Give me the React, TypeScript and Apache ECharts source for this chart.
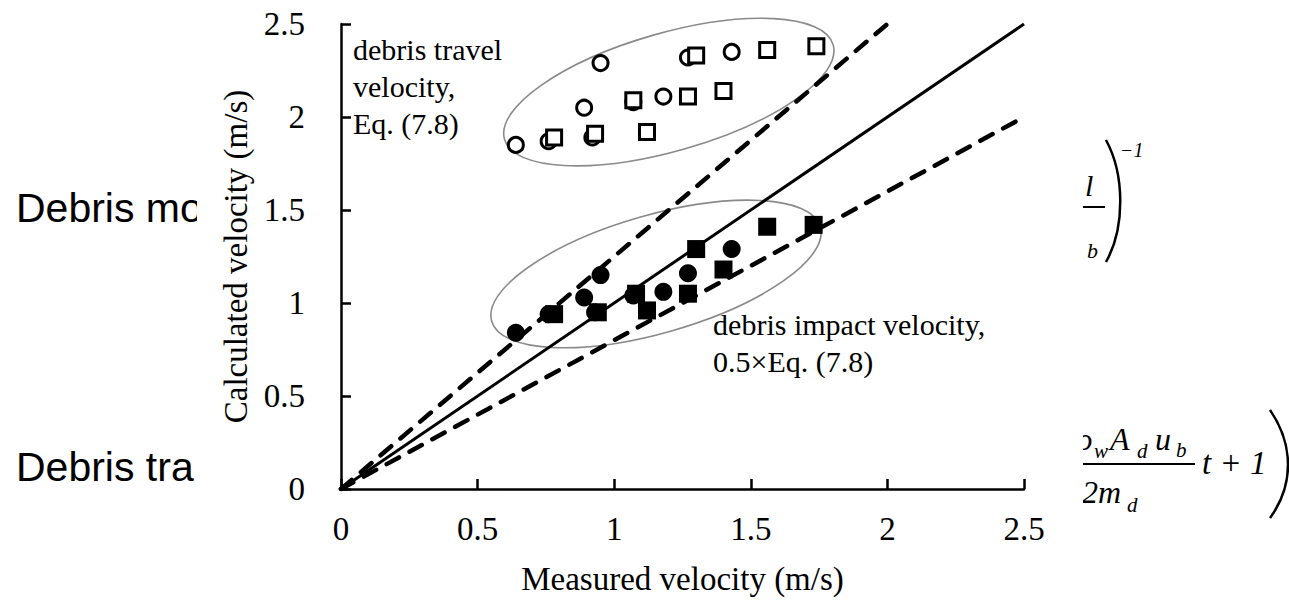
import React, { useEffect, useRef } from "react";
import * as echarts from "echarts";

// ---- data ----
const travelCircleX = [0.64, 0.76, 0.92, 0.89, 0.95, 1.07, 1.18, 1.27, 1.43];
const travelCircleY = [1.85, 1.87, 1.89, 2.05, 2.29, 2.08, 2.11, 2.32, 2.35];
const travelSquareX = [0.78, 0.93, 1.07, 1.12, 1.27, 1.3, 1.4, 1.56, 1.74];
const travelSquareY = [1.89, 1.91, 2.09, 1.92, 2.11, 2.33, 2.14, 2.36, 2.38];
const impactCircleX = [0.64, 0.76, 0.89, 0.93, 0.95, 1.07, 1.18, 1.27, 1.43];
const impactCircleY = [0.84, 0.94, 1.03, 0.95, 1.15, 1.04, 1.06, 1.16, 1.29];
const impactSquareX = [0.78, 0.94, 1.08, 1.12, 1.27, 1.3, 1.4, 1.56, 1.73];
const impactSquareY = [0.94, 0.95, 1.05, 0.96, 1.05, 1.29, 1.18, 1.41, 1.42];

const oneToOneLine = [[0, 0], [2.5, 2.5]];
const upperBoundLine = [[0, 0], [2.0, 2.5]];
const lowerBoundLine = [[0, 0], [2.5, 2.0]];

const axisMin = 0;
const axisMax = 2.5;
const axisStep = 0.5;

const xAxisTitle = "Measured velocity (m/s)";
const yAxisTitle = "Calculated velocity (m/s)";
const travelNote = "debris travel\nvelocity,\nEq. (7.8)";
const impactNote = "debris impact velocity,\n0.5×Eq. (7.8)";

const zip = (xs: number[], ys: number[]) => xs.map((x, i) => [x, ys[i]]);

export default function App() {
  const ref = useRef<HTMLDivElement>(null);
  useEffect(() => {
    document.body.style.margin = "0";
    const chart = echarts.init(ref.current!, null, { renderer: "svg" });
    const serif = "Liberation Serif";
    const axisCommon = {
      type: "value",
      min: axisMin,
      max: axisMax,
      interval: axisStep,
      splitLine: { show: false },
      axisLine: { show: true, lineStyle: { color: "#000", width: 2.5 } },
      axisTick: { show: true, inside: true, length: 10, lineStyle: { color: "#000", width: 2.5 } },
      nameLocation: "middle",
      nameTextStyle: { fontFamily: serif, fontSize: 33, color: "#000" },
    };
    chart.setOption({
      animation: false,
      grid: { left: 341, top: 24, width: 683, height: 465 },
      xAxis: {
        ...axisCommon,
        name: xAxisTitle,
        nameGap: 73,
        axisLabel: { fontFamily: serif, fontSize: 33, color: "#000", margin: 23 },
      },
      yAxis: {
        ...axisCommon,
        name: yAxisTitle,
        nameGap: 84,
        axisLabel: { fontFamily: serif, fontSize: 33, color: "#000", margin: 36 },
      },
      series: [
        {
          type: "line",
          data: oneToOneLine,
          showSymbol: false,
          lineStyle: { color: "#000", width: 3 },
          z: 1,
        },
        {
          type: "line",
          data: upperBoundLine,
          showSymbol: false,
          lineStyle: { color: "#000", width: 4.5, type: [14, 12], cap: "round" },
          z: 1,
        },
        {
          type: "line",
          data: lowerBoundLine,
          showSymbol: false,
          lineStyle: { color: "#000", width: 4.5, type: [14, 12], cap: "round" },
          z: 1,
        },
        {
          type: "scatter",
          data: zip(travelCircleX, travelCircleY),
          symbol: "circle",
          symbolSize: 15,
          itemStyle: { color: "#fff", borderColor: "#000", borderWidth: 3, opacity: 1 },
        },
        {
          type: "scatter",
          data: zip(travelSquareX, travelSquareY),
          symbol: "rect",
          symbolSize: 15,
          itemStyle: { color: "#fff", borderColor: "#000", borderWidth: 3, opacity: 1 },
        },
        {
          type: "scatter",
          data: zip(impactCircleX, impactCircleY),
          symbol: "circle",
          symbolSize: 18,
          itemStyle: { color: "#000", opacity: 1 },
        },
        {
          type: "scatter",
          data: zip(impactSquareX, impactSquareY),
          symbol: "rect",
          symbolSize: 18,
          itemStyle: { color: "#000", opacity: 1 },
        },
      ],
    });

    const px = (x: number, y: number) => chart.convertToPixel({ gridIndex: 0 }, [x, y]) as number[];
    const upperC = px(1.2, 2.134);
    const lowerC = px(1.153, 1.156);
    const travelPos = px(0.044, 2.462);
    const impactPos = px(1.362, 0.982);
    const rot = (16 * Math.PI) / 180;
    const ell = (c: number[]) => ({
      type: "ellipse",
      x: c[0],
      y: c[1],
      rotation: rot,
      shape: { cx: 0, cy: 0, rx: 171, ry: 59 },
      style: { fill: "none", stroke: "#8a8a8a", lineWidth: 1.6 },
      z: 1,
    });
    const note = (pos: number[], text: string) => ({
      type: "text",
      x: pos[0],
      y: pos[1],
      z: 3,
      style: {
        text,
        font: `30px "${serif}"`,
        fill: "#000",
        lineHeight: 37,
        textAlign: "left",
        textVerticalAlign: "top",
        align: "left",
        verticalAlign: "top",
      },
    });
    const bgText = (x: number, y: number, text: string, size: number, italic: boolean, family: string, align = "left") => ({
      type: "text",
      x,
      y,
      z: -10,
      style: {
        text,
        font: `${italic ? "italic " : ""}${size}px "${family}"`,
        fill: "#000",
        textAlign: align,
        textVerticalAlign: "middle",
        align,
        verticalAlign: "middle",
      },
    });
    const sans = "Liberation Sans";
    const m = (base: number, size: number) => base - 0.3375 * size;
    chart.setOption({
      graphic: {
        elements: [
          // slide fragments behind the chart
          bgText(16, 208, "Debris mo", 41, false, sans),
          bgText(16, 467, "Debris tra", 41, false, sans),
          // top formula fragment
          bgText(1085, m(196, 30), "l", 30, true, serif),
          { type: "line", z: -10, shape: { x1: 1083, y1: 207, x2: 1105, y2: 207 }, style: { stroke: "#000", lineWidth: 2 } },
          bgText(1087, m(258, 22), "b", 22, true, serif),
          {
            type: "bezierCurve", z: -10,
            shape: { x1: 1106, y1: 140, cpx1: 1125, cpy1: 175, cpx2: 1125, cpy2: 228, x2: 1106, y2: 262 },
            style: { stroke: "#000", lineWidth: 2.5, fill: "none" },
          },
          bgText(1120, 150, "−1", 20, true, serif),
          // bottom formula fragment
          bgText(1077, m(450, 32), "ρ", 32, true, serif),
          bgText(1094, m(458, 21), "w", 21, true, serif),
          bgText(1110, m(450, 32), "A", 32, true, serif),
          bgText(1137, m(458, 21), "d", 21, true, serif),
          bgText(1155, m(450, 32), "u", 32, true, serif),
          bgText(1176, m(457, 21), "b", 21, true, serif),
          { type: "line", z: -10, shape: { x1: 1082, y1: 464, x2: 1195, y2: 464 }, style: { stroke: "#000", lineWidth: 2 } },
          bgText(1082, m(503, 32), "2m", 32, true, serif),
          bgText(1127, m(512, 21), "d", 21, true, serif),
          bgText(1202, m(474, 33), "t + 1", 33, true, serif),
          {
            type: "bezierCurve", z: -10,
            shape: { x1: 1270, y1: 410, cpx1: 1294, cpy1: 445, cpx2: 1294, cpy2: 485, x2: 1270, y2: 518 },
            style: { stroke: "#000", lineWidth: 2.5, fill: "none" },
          },
          // white panel that hides the rest of the slide
          { type: "rect", z: -5, shape: { x: 197, y: 0, width: 1083 - 197, height: 606 }, style: { fill: "#fff" } },
          // annotations
          ell(upperC),
          ell(lowerC),
          note(travelPos, travelNote),
          note(impactPos, impactNote),
        ],
      },
    });
    return () => chart.dispose();
  }, []);
  return <div ref={ref} style={{ width: 1289, height: 606 }} />;
}
